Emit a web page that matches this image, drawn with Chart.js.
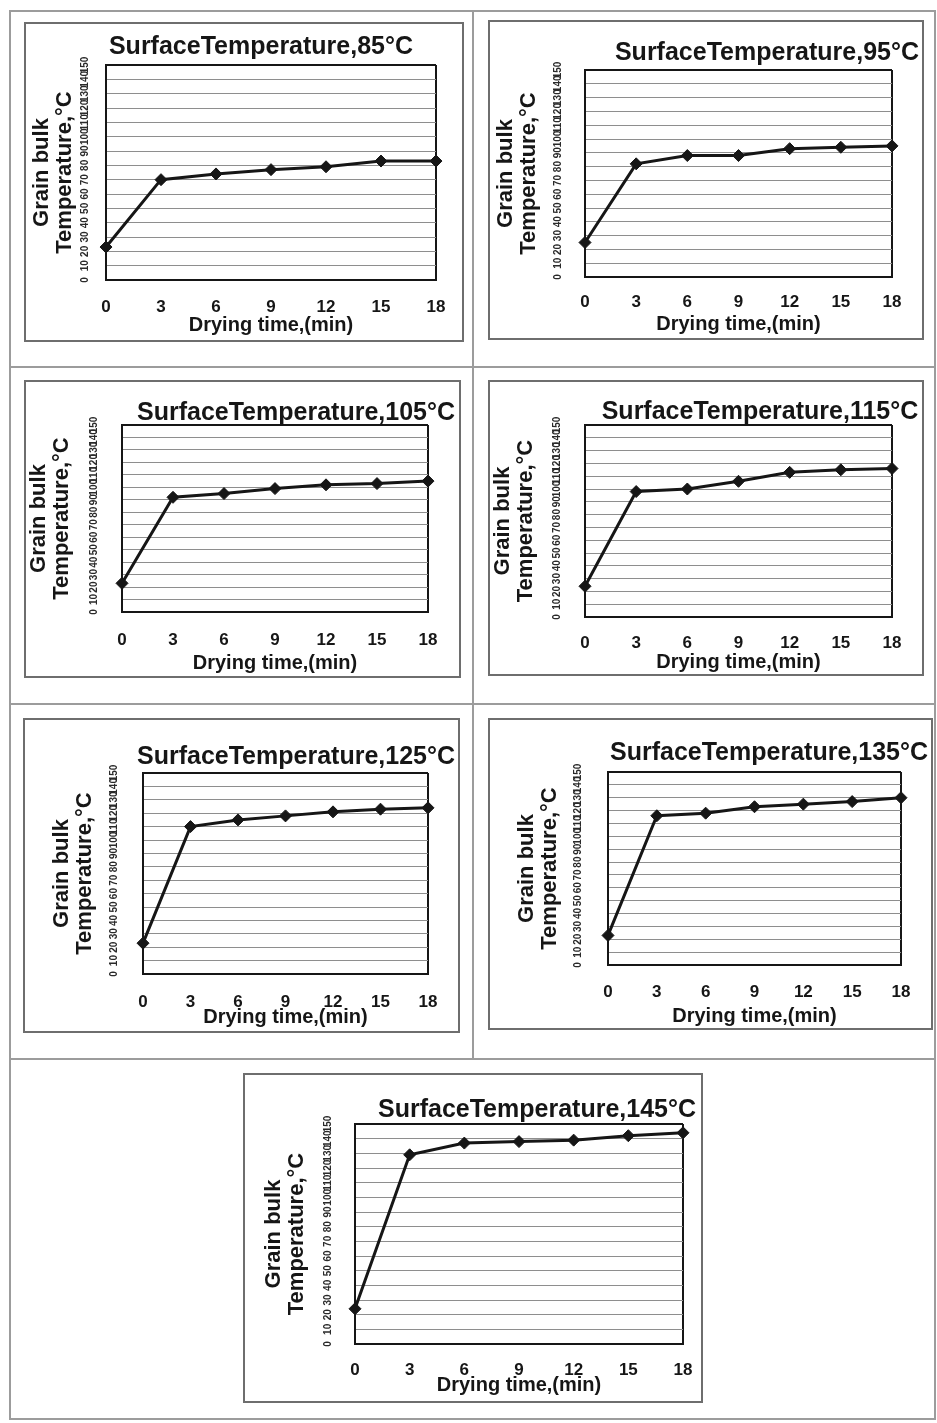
<!DOCTYPE html>
<html>
<head>
<meta charset="utf-8">
<title>Grain bulk temperature vs drying time</title>
<script src="https://cdn.jsdelivr.net/npm/chart.js@4.4.1/dist/chart.umd.min.js"></script>
<style>
  html, body { margin: 0; padding: 0; background: #fff; }
  #page { position: relative; width: 937px; height: 1423px; overflow: hidden; }
  .rule { position: absolute; background: #9c9c9c; }
  .panel { position: absolute; border: 2px solid #6e6e6e; box-sizing: content-box; }
</style>
</head>
<body>
<div id="page"></div>
<script>
// --- Data ---
const dryingTimes = ['0', '3', '6', '9', '12', '15', '18'];
const surfaceTemps = [85, 95, 105, 115, 125, 135, 145];

const bulk85  = [23, 70, 74, 77, 79, 83, 83];
const bulk95  = [25, 82, 88, 88, 93, 94, 95];
const bulk105 = [23, 92, 95, 99, 102, 103, 105];
const bulk115 = [24, 98, 100, 106, 113, 115, 116];
const bulk125 = [23, 110, 115, 118, 121, 123, 124];
const bulk135 = [23, 116, 118, 123, 125, 127, 130];
const bulk145 = [24, 129, 137, 138, 139, 142, 144];
const bulkSeries = [bulk85, bulk95, bulk105, bulk115, bulk125, bulk135, bulk145];

const yMin = 0, yMax = 150, yStep = 10;

// --- Page layout (page pixels), kept apart from the data ---
// box: [x, y, w, h]   plot: [left, top, right, bottom]
const layouts = [
  { box: [24, 22, 440, 320],   plot: [106, 65, 436, 280],    title: [261, 47],   yTitleX: 42,  yTickX: 86,  xTickY: 307,  xTitleY: 325 },
  { box: [488, 20, 436, 320],  plot: [585, 70, 892, 277],    title: [767, 53],   yTitleX: 506, yTickX: 559, xTickY: 302,  xTitleY: 324 },
  { box: [24, 380, 437, 298],  plot: [122, 425, 428, 612],   title: [296, 413],  yTitleX: 39,  yTickX: 95,  xTickY: 640,  xTitleY: 663 },
  { box: [488, 380, 436, 296], plot: [585, 425, 892, 617],   title: [760, 412],  yTitleX: 503, yTickX: 558, xTickY: 643,  xTitleY: 662 },
  { box: [23, 718, 437, 315],  plot: [143, 773, 428, 974],   title: [296, 757],  yTitleX: 62,  yTickX: 115, xTickY: 1002, xTitleY: 1017 },
  { box: [488, 718, 445, 312], plot: [608, 772, 901, 965],   title: [769, 753],  yTitleX: 527, yTickX: 579, xTickY: 992,  xTitleY: 1017 },
  { box: [243, 1073, 460, 330], plot: [355, 1124, 683, 1344], title: [537, 1110], yTitleX: 274, yTickX: 329, xTickY: 1370, xTitleY: 1385 }
];

// table rules of the scanned page: [x, y, w, h]
const rules = [
  [9, 10, 927, 2], [9, 1418, 927, 2], [9, 10, 2, 1410], [934, 10, 2, 1410],
  [472, 10, 2, 1050], [9, 366, 927, 2], [9, 703, 927, 2], [9, 1058, 927, 2]
];

const FONT = '"Liberation Sans", Arial, Helvetica, sans-serif';
const INK = '#161616';
const Y_TITLE_SIZE = 22, Y_TITLE_LH = 1.05;
const X_TITLE_SIZE = 20, X_TITLE_LH = 1.2;
const X_TICK_SIZE = 17, X_TICK_LH = 1.2;
const Y_TICK_SIZE = 10;

const page = document.getElementById('page');
rules.forEach(([x, y, w, h]) => {
  const d = document.createElement('div');
  d.className = 'rule';
  d.style.cssText = `left:${x}px;top:${y}px;width:${w}px;height:${h}px`;
  page.appendChild(d);
});

// chart title drawn where the scan puts it (not centred on the plot)
const panelTitle = {
  id: 'panelTitle',
  afterDraw(chart, args, opts) {
    const ctx = chart.ctx;
    ctx.save();
    ctx.font = `bold 25px ${FONT}`;
    ctx.fillStyle = INK;
    ctx.textAlign = 'center';
    ctx.textBaseline = 'middle';
    ctx.fillText(opts.text, opts.x, opts.y);
    ctx.restore();
  }
};

layouts.forEach((lay, i) => {
  const [bx, by, bw, bh] = lay.box;
  const ox = bx + 2, oy = by + 2;
  const cw = bw - 4, ch = bh - 4;
  const [L, T, R, B] = lay.plot;

  const canvas = document.createElement('canvas');
  canvas.className = 'panel';
  canvas.style.left = bx + 'px';
  canvas.style.top = by + 'px';
  canvas.style.boxSizing = 'content-box';
  canvas.width = cw;
  canvas.height = ch;
  page.appendChild(canvas);

  const yLine = Y_TITLE_SIZE * Y_TITLE_LH;
  const padLeft = lay.yTitleX - ox - yLine / 2;
  const yAxisWidth = L - ox - padLeft;
  let xAxisHeight = lay.xTitleY + (X_TITLE_SIZE * X_TITLE_LH) / 2 - B;
  let padBottom = ch - (B - oy) - xAxisHeight;
  if (padBottom < 0) { xAxisHeight += padBottom; padBottom = 0; }

  new Chart(canvas, {
    type: 'line',
    data: {
      labels: dryingTimes,
      datasets: [{
        data: bulkSeries[i],
        borderColor: INK,
        backgroundColor: INK,
        borderWidth: 3,
        pointStyle: 'rectRot',
        pointRadius: 6,
        pointBorderWidth: 1,
        tension: 0,
        clip: false
      }]
    },
    options: {
      responsive: false,
      animation: false,
      layout: {
        autoPadding: false,
        padding: { left: padLeft, top: T - oy, right: ox + cw - R, bottom: padBottom }
      },
      plugins: {
        legend: { display: false },
        tooltip: { enabled: false },
        panelTitle: {
          text: `SurfaceTemperature,${surfaceTemps[i]}°C`,
          x: lay.title[0] - ox,
          y: lay.title[1] - oy
        }
      },
      scales: {
        x: {
          type: 'category',
          offset: false,
          afterFit: s => { s.height = xAxisHeight; s.paddingLeft = 0; s.paddingRight = 0; },
          grid: {
            drawTicks: false,
            lineWidth: 2,
            color: c => c.index === dryingTimes.length - 1 ? INK : 'rgba(0,0,0,0)'
          },
          border: { display: true, color: INK, width: 2 },
          ticks: {
            autoSkip: false,
            maxRotation: 0,
            padding: lay.xTickY - B - (X_TICK_SIZE * X_TICK_LH) / 2,
            color: INK,
            font: { family: FONT, size: X_TICK_SIZE, weight: 'bold', lineHeight: X_TICK_LH }
          },
          title: {
            display: true,
            text: 'Drying time,(min)',
            color: INK,
            padding: 0,
            font: { family: FONT, size: X_TITLE_SIZE, weight: 'bold', lineHeight: X_TITLE_LH }
          }
        },
        y: {
          min: yMin,
          max: yMax,
          afterFit: s => { s.width = yAxisWidth; s.paddingTop = 0; s.paddingBottom = 0; },
          grid: {
            drawTicks: false,
            color: c => c.tick && c.tick.value === yMax ? INK : '#8e8e8e',
            lineWidth: c => c.tick && c.tick.value === yMax ? 2 : 1
          },
          border: { display: true, color: INK, width: 2 },
          ticks: {
            stepSize: yStep,
            autoSkip: false,
            minRotation: 90,
            maxRotation: 90,
            crossAlign: 'center',
            padding: L - lay.yTickX - 8,
            color: '#2a2a2a',
            font: { family: FONT, size: Y_TICK_SIZE, weight: 'bold' }
          },
          title: {
            display: true,
            text: ['Grain bulk', 'Temperature,°C'],
            color: INK,
            padding: 0,
            font: { family: FONT, size: Y_TITLE_SIZE, weight: 'bold', lineHeight: Y_TITLE_LH }
          }
        }
      }
    },
    plugins: [panelTitle]
  });
});
</script>
</body>
</html>
